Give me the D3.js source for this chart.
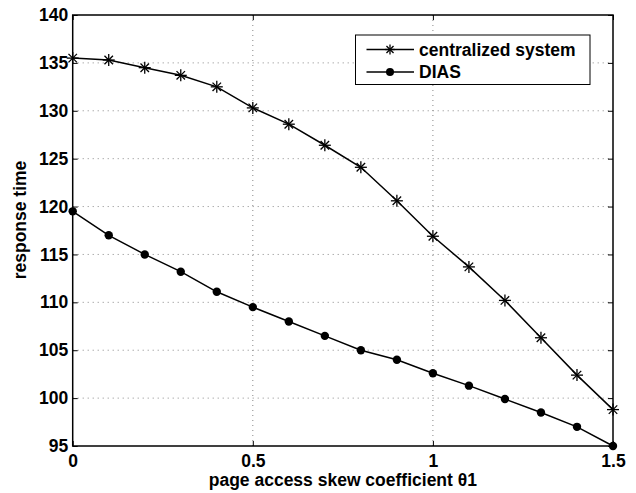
<!DOCTYPE html>
<html>
<head>
<meta charset="utf-8">
<script src="https://cdn.jsdelivr.net/npm/d3@7"></script>
<style>
  body { margin: 0; background: #fff; }
  text { font-family: "Liberation Sans", Arial, sans-serif; font-weight: bold; fill: #000; }
</style>
</head>
<body>
<div id="chart"></div>
<script>
// skew coefficient values
const skew = [0, 0.1, 0.2, 0.3, 0.4, 0.5, 0.6, 0.7, 0.8, 0.9, 1.0, 1.1, 1.2, 1.3, 1.4, 1.5];
const centralized = [135.5, 135.3, 134.5, 133.7, 132.5, 130.3, 128.6, 126.4, 124.1, 120.6, 116.9, 113.7, 110.2, 106.3, 102.4, 98.8];
const dias = [119.5, 117.0, 115.0, 113.2, 111.1, 109.5, 108.0, 106.5, 105.0, 104.0, 102.6, 101.3, 99.9, 98.5, 97.0, 95.0];
const xTicks = [0, 0.5, 1, 1.5];
const yTicks = [95, 100, 105, 110, 115, 120, 125, 130, 135, 140];
const seriesNames = ['centralized system', 'DIAS'];

const W = 636, H = 493;
const margin = { left: 72.7, right: 23, top: 15, bottom: 47 };
const FONT = '17.5px';

const svg = d3.select('#chart').append('svg')
  .attr('width', W).attr('height', H);

const x = d3.scaleLinear().domain([0, 1.5]).range([margin.left, W - margin.right]);
const y = d3.scaleLinear().domain([95, 140]).range([H - margin.bottom, margin.top]);

// grid
const grid = svg.append('g');
grid.selectAll('line.gx')
  .data(xTicks.slice(1, -1))
  .join('line')
  .attr('x1', (d) => x(d)).attr('x2', (d) => x(d))
  .attr('y1', y(95)).attr('y2', y(140))
  .attr('stroke', '#888').attr('stroke-width', 1)
  .attr('stroke-dasharray', '1 4');
grid.selectAll('line.gy')
  .data(yTicks.slice(1, -1))
  .join('line')
  .attr('x1', x(0)).attr('x2', x(1.5))
  .attr('y1', (d) => y(d)).attr('y2', (d) => y(d))
  .attr('stroke', '#888').attr('stroke-width', 1)
  .attr('stroke-dasharray', '1 4');

// axes (ticks inward, mirrored)
const tickLen = 5;
const axes = svg.append('g');
axes.append('g')
  .attr('transform', `translate(0,${y(95)})`)
  .call(d3.axisBottom(x).tickValues(xTicks).tickSize(-tickLen).tickPadding(9).tickFormat(d3.format('')))
  .call((g) => g.select('.domain').remove());
axes.append('g')
  .attr('transform', `translate(${x(0)},0)`)
  .call(d3.axisLeft(y).tickValues(yTicks).tickSize(-tickLen).tickPadding(4.5))
  .call((g) => g.select('.domain').remove());
axes.append('g')
  .attr('transform', `translate(0,${y(140)})`)
  .call(d3.axisTop(x).tickValues(xTicks).tickSize(-tickLen).tickFormat(''))
  .call((g) => g.select('.domain').remove());
axes.append('g')
  .attr('transform', `translate(${x(1.5)},0)`)
  .call(d3.axisRight(y).tickValues(yTicks).tickSize(-tickLen).tickFormat(''))
  .call((g) => g.select('.domain').remove());
axes.selectAll('.tick line').attr('stroke', '#000');
axes.selectAll('.tick text')
  .style('font-size', FONT).style('font-family', '"Liberation Sans", Arial, sans-serif')
  .style('font-weight', 'bold').attr('fill', '#000');

// frame
svg.append('rect')
  .attr('x', x(0)).attr('y', y(140))
  .attr('width', x(1.5) - x(0)).attr('height', y(95) - y(140))
  .attr('fill', 'none').attr('stroke', '#000').attr('stroke-width', 1.5);

// lines
const line = d3.line().x((d) => x(d[0])).y((d) => y(d[1]));
const cData = skew.map((s, i) => [s, centralized[i]]);
const dData = skew.map((s, i) => [s, dias[i]]);

svg.append('path').datum(cData).attr('d', line)
  .attr('fill', 'none').attr('stroke', '#000').attr('stroke-width', 1.5);
svg.append('path').datum(dData).attr('d', line)
  .attr('fill', 'none').attr('stroke', '#000').attr('stroke-width', 1.5);

function asterisk(g, cx, cy, r) {
  const a = g.append('g').attr('transform', `translate(${cx},${cy})`);
  [0, 45, 90, 135].forEach((ang) => {
    const rad = ang * Math.PI / 180;
    a.append('line')
      .attr('x1', -r * Math.cos(rad)).attr('y1', -r * Math.sin(rad))
      .attr('x2', r * Math.cos(rad)).attr('y2', r * Math.sin(rad))
      .attr('stroke', '#000').attr('stroke-width', 1.3);
  });
}

const marks = svg.append('g');
cData.forEach((d) => asterisk(marks, x(d[0]), y(d[1]), 6));
marks.selectAll('circle')
  .data(dData)
  .join('circle')
  .attr('cx', (d) => x(d[0])).attr('cy', (d) => y(d[1]))
  .attr('r', 4.2).attr('fill', '#000');

// legend
const leg = svg.append('g');
leg.append('rect')
  .attr('x', 355.5).attr('y', 35).attr('width', 234.5).attr('height', 49.5)
  .attr('fill', '#fff').attr('stroke', '#000').attr('stroke-width', 1);
seriesNames.forEach((name, i) => {
  const ly = 49.5 + i * 22.5;
  leg.append('line')
    .attr('x1', 366.5).attr('x2', 414).attr('y1', ly).attr('y2', ly)
    .attr('stroke', '#000').attr('stroke-width', 1.5);
  if (i === 0) asterisk(leg, 390, ly, 5);
  else leg.append('circle').attr('cx', 390).attr('cy', ly).attr('r', 4).attr('fill', '#000');
  leg.append('text')
    .attr('x', 419).attr('y', ly + 6)
    .style('font-size', FONT)
    .text(name);
});

// axis labels
svg.append('text')
  .attr('x', x(0.75)).attr('y', 486)
  .attr('text-anchor', 'middle')
  .style('font-size', FONT)
  .text('page access skew coefficient θ1');
svg.append('text')
  .attr('transform', 'translate(26,220) rotate(-90)')
  .attr('text-anchor', 'middle')
  .style('font-size', FONT)
  .text('response time');
</script>
</body>
</html>
